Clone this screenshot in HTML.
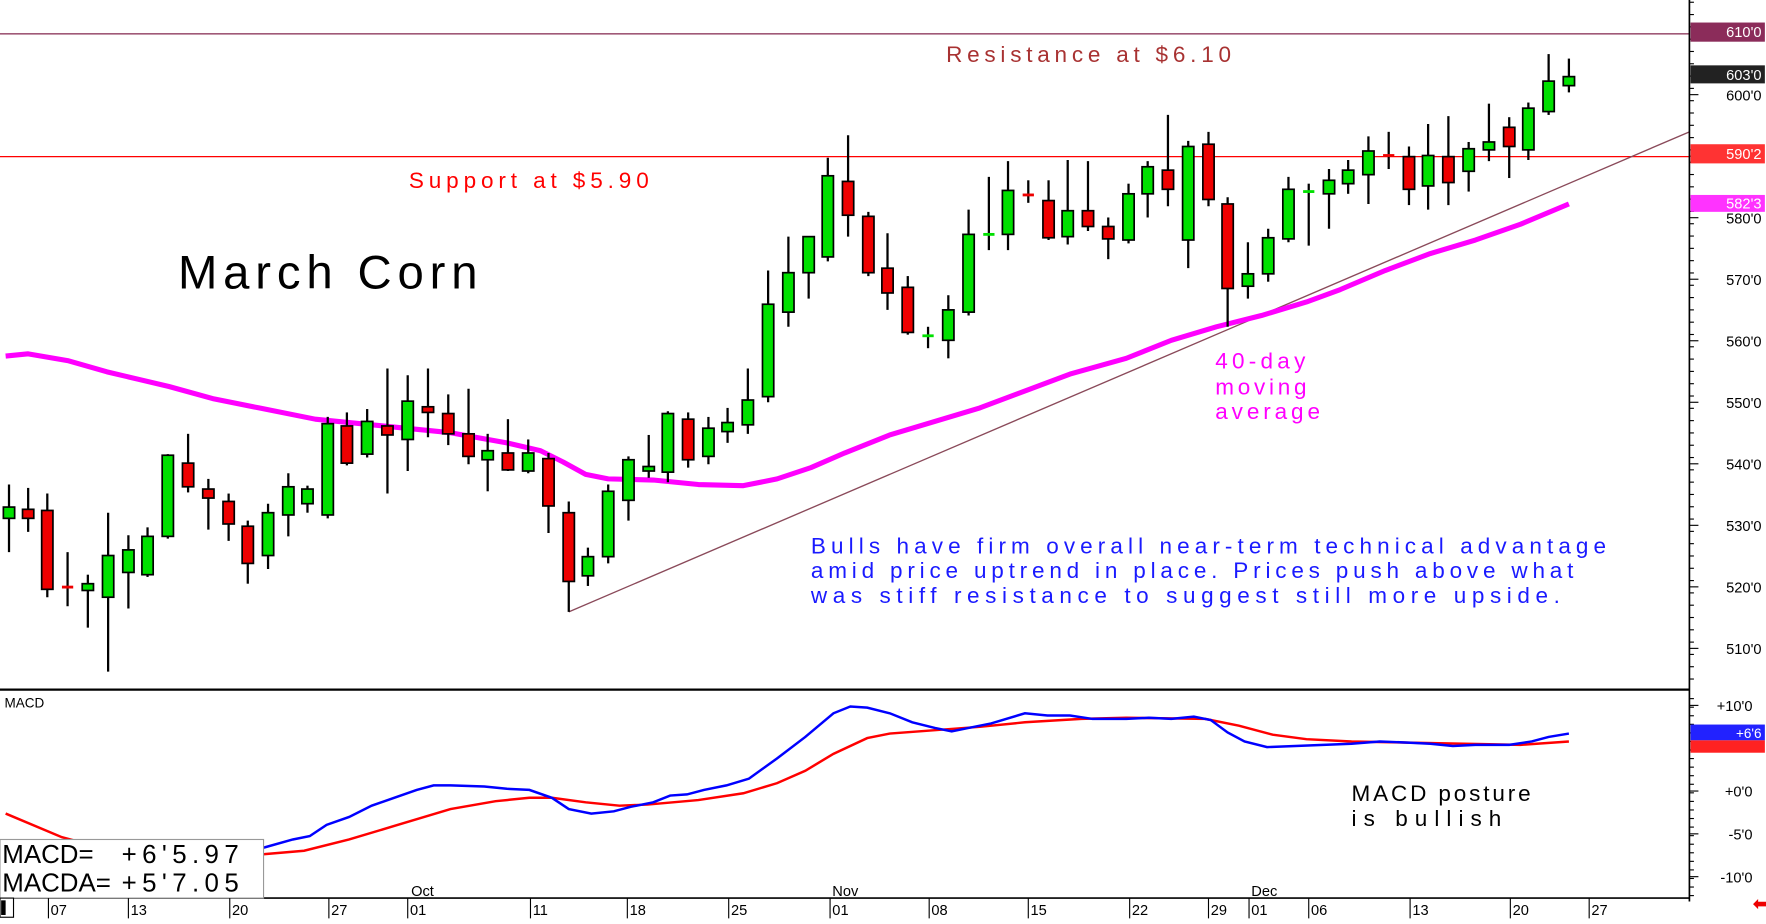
<!DOCTYPE html>
<html><head><meta charset="utf-8">
<style>
html,body{margin:0;padding:0;background:#fff;overflow:hidden}
svg{display:block}
text{font-family:"Liberation Sans",sans-serif}
</style></head>
<body>
<svg id="s" width="1766" height="924" viewBox="0 0 1568 820" preserveAspectRatio="none" xmlns="http://www.w3.org/2000/svg">
<rect width="1568" height="820" fill="#fff"/>
<g id="grid"></g>
<!-- resistance / support -->
<line x1="0" y1="30" x2="1500" y2="30" stroke="#a05a78" stroke-width="1.5"/>
<line x1="0" y1="139" x2="1500" y2="139" stroke="#f00" stroke-width="1.2"/>
<line x1="505" y1="543" x2="1500" y2="117" stroke="#8a4a5a" stroke-width="1.2"/>
<polyline fill="none" stroke="#f0f" stroke-width="4.5" stroke-linejoin="round" points="5,316 25,314 60,320 95,330 150,343 190,354 230,362 280,372 340,378 400,384 450,393 480,400 500,410 520,421 540,425 580,426 620,430 660,431 690,425 720,415 750,402 790,386 830,374 870,362 910,347 950,332 1000,318 1040,302 1080,290 1120,280 1160,268 1190,257 1230,240 1270,225 1310,213 1350,199 1393,181"/>
<g id="candles"></g>
<!-- texts -->
<text x="840" y="55" font-size="20" fill="#a83232" textLength="253" lengthAdjust="spacing">Resistance at $6.10</text>
<text x="363" y="167" font-size="20" fill="#f00" textLength="213" lengthAdjust="spacing">Support at $5.90</text>
<text x="158" y="256" font-size="42" fill="#000" textLength="266" lengthAdjust="spacing">March Corn</text>
<text x="720" y="491" font-size="20" fill="#1a1aff" textLength="706" lengthAdjust="spacing">Bulls have firm overall near-term technical advantage</text>
<text x="720" y="513" font-size="20" fill="#1a1aff" textLength="677" lengthAdjust="spacing">amid price uptrend in place. Prices push above what</text>
<text x="720" y="535" font-size="20" fill="#1a1aff" textLength="665" lengthAdjust="spacing">was stiff resistance to suggest still more upside.</text>
<text x="1079" y="327" font-size="20" fill="#f0f" textLength="80" lengthAdjust="spacing">40-day</text>
<text x="1079" y="350" font-size="20" fill="#f0f" textLength="81" lengthAdjust="spacing">moving</text>
<text x="1079" y="372" font-size="20" fill="#f0f" textLength="93" lengthAdjust="spacing">average</text>
<!-- panel borders -->
<line x1="0" y1="612" x2="1500" y2="612" stroke="#000" stroke-width="2"/>
<line x1="1500" y1="0" x2="1500" y2="800" stroke="#000" stroke-width="1.5"/>
<line x1="0" y1="797" x2="1500" y2="797" stroke="#000" stroke-width="1.5"/>
<text x="4" y="628" font-size="12" fill="#000">MACD</text>
<polyline fill="none" stroke="#f00" stroke-width="2.2" points="5,722 55,743 100,755 160,762 235,758 270,755 310,745 350,733 400,718 440,711 470,708 490,708 520,712 550,715 575,714 620,710 660,704 690,695 715,684 740,669 770,655 790,651 830,648 870,645 910,641 960,638 1000,637 1070,638 1100,644 1130,652 1160,656 1200,658 1250,659 1300,660 1350,661 1393,658"/>
<polyline fill="none" stroke="#00f" stroke-width="2.2" points="200,760 235,752 260,745 275,742 290,732 310,725 330,715 350,708 370,701 385,697 400,697 430,698 450,700 470,701 490,708 505,718 525,722 545,720 560,716 580,712 595,706 610,705 625,701 645,697 665,691 690,673 715,654 740,633 755,627 770,628 790,633 810,641 830,646 845,649 860,646 880,642 910,633 930,635 950,635 970,638 1000,638 1020,637 1040,638 1060,636 1075,639 1090,650 1105,658 1125,663 1150,662 1175,661 1200,660 1225,658 1250,659 1270,660 1290,662 1310,661 1340,661 1360,658 1375,654 1393,651"/>
<text x="1200" y="711" font-size="20" fill="#000" textLength="159" lengthAdjust="spacing">MACD posture</text>
<text x="1200" y="733" font-size="20" fill="#000" textLength="133" lengthAdjust="spacing">is bullish</text>
<rect x="0" y="745" width="234" height="52" fill="#fff" stroke="#999" stroke-width="1"/>
<text x="2" y="766" font-size="23" fill="#000">MACD=</text>
<text x="108" y="766" font-size="23" fill="#000" textLength="104" lengthAdjust="spacing">+6'5.97</text>
<text x="2" y="791" font-size="23" fill="#000">MACDA=</text>
<text x="108" y="791" font-size="23" fill="#000" textLength="104" lengthAdjust="spacing">+5'7.05</text>
<g id="axis"></g>
<!-- right labels -->
<rect x="1501" y="20" width="66" height="17" fill="#8b2c5a"/>
<text x="1564" y="33" font-size="13" fill="#fff" text-anchor="end">610'0</text>
<rect x="1501" y="58" width="66" height="16" fill="#222"/>
<text x="1564" y="71" font-size="13" fill="#fff" text-anchor="end">603'0</text>
<rect x="1501" y="128" width="66" height="17" fill="#f33"/>
<text x="1564" y="141" font-size="13" fill="#fff" text-anchor="end">590'2</text>
<rect x="1501" y="173" width="66" height="15" fill="#f3f"/>
<text x="1564" y="185" font-size="13" fill="#fff" text-anchor="end">582'3</text>
<rect x="1501" y="643" width="66" height="14" fill="#22f"/>
<text x="1564" y="655" font-size="12" fill="#fff" text-anchor="end">+6'6</text>
<rect x="1501" y="657" width="66" height="11" fill="#f22"/>
<text x="1556" y="808" font-size="18" fill="#e00">⬅</text>
</svg>
<script>
const NS="http://www.w3.org/2000/svg";
function el(p,t,a){const e=document.createElementNS(NS,t);for(const k in a)e.setAttribute(k,a[k]);p.appendChild(e);return e;}
const C=[
[8,'g',450,460,430,490],[25,'r',452,460,433,472],[42,'r',453,523,438,530],[60,'r',521,521,490,538],
[78,'g',518,524,510,557],[96,'g',493,530,455,596],[114,'g',488,508,475,540],[131,'g',476,510,468,512],
[149,'g',404,476,403,478],[167,'r',411,432,385,437],[185,'r',434,442,425,470],[203,'r',445,465,438,480],
[220,'r',467,500,462,518],[238,'g',455,493,447,505],[256,'g',432,457,420,476],[273,'g',434,447,431,455],
[291,'g',376,457,370,460],[308,'r',378,411,366,413],[326,'g',374,403,363,406],[344,'r',378,386,327,438],
[362,'g',356,390,333,418],[380,'r',361,366,327,388],[398,'r',367,385,350,395],[416,'r',385,405,345,412],
[433,'g',400,408,385,436],[451,'r',402,417,372,418],[469,'g',402,418,390,420],[487,'r',407,449,402,473],
[505,'r',455,516,445,543],[522,'g',494,511,486,520],[540,'g',436,494,430,500],[558,'g',408,444,405,462],
[576,'g',414,418,386,424],[593,'g',367,419,365,428],[611,'r',372,408,366,415],[629,'g',380,405,370,412],
[646,'g',375,383,362,393],[664,'g',355,377,327,385],[682,'g',270,352,240,357],[700,'g',242,277,210,290],
[718,'g',210,242,210,265],[735,'g',156,228,140,232],[753,'r',161,191,120,210],[771,'r',192,242,188,245],
[788,'r',238,260,207,275],[806,'r',255,295,245,297],[824,'g',298,298,290,309],[842,'g',275,302,262,318],
[860,'g',208,277,186,280],[878,'g',208,208,157,222],[895,'g',169,208,143,222],[913,'r',173,173,160,180],
[931,'r',178,211,160,213],[948,'g',187,210,142,217],[966,'r',187,201,143,205],[984,'r',201,212,193,230],
[1002,'g',172,213,163,216],[1019,'g',148,172,143,193],[1037,'r',151,168,102,183],[1055,'g',130,213,125,238],
[1073,'r',128,177,117,183],[1090,'r',181,256,175,290],[1108,'g',243,254,215,265],[1126,'g',211,243,203,250],
[1144,'g',168,212,157,215],[1162,'g',170,170,163,218],[1180,'g',160,172,150,203],[1197,'g',151,163,142,172],
[1215,'g',134,155,121,181],[1233,'r',138,138,117,150],[1251,'r',139,168,130,182],[1268,'g',138,165,110,186],
[1286,'r',139,162,103,182],[1304,'g',132,152,126,170],[1322,'g',126,133,92,143],[1340,'r',113,130,104,158],
[1357,'g',96,133,91,142],[1375,'g',72,99,48,102],[1393,'g',68,76,52,82]];
const g=document.getElementById('candles');
for(const [x,c,t,b,h,l] of C){
 const col=c==='g'?'#00e000':'#ee0000';
 el(g,'line',{x1:x,y1:h,x2:x,y2:l,stroke:'#000','stroke-width':2});
 if(b-t<2){el(g,'line',{x1:x-5,y1:t,x2:x+5,y2:t,stroke:col,'stroke-width':2.5});}
 else el(g,'rect',{x:x-5,y:t,width:10,height:b-t,fill:col,stroke:'#000','stroke-width':1.5});
}
const ax=document.getElementById('axis');
// price axis labels & ticks
for(let p=510;p<=600;p+=10){const y=84+(600-p)*5.46;
 el(ax,'text',{x:1564,y:y+5,'font-size':13,fill:'#000','text-anchor':'end'}).textContent=p+"'0";
 el(ax,'line',{x1:1500,y1:y,x2:1508,y2:y,stroke:'#000','stroke-width':1});}
for(let y=2;y<612;y+=10.92){el(ax,'line',{x1:1500,y1:y,x2:1504,y2:y,stroke:'#000','stroke-width':1});}
[[626,'+10\'0'],[702,'+0\'0'],[740,'-5\'0'],[778,'-10\'0']].forEach(([y,t])=>{
 el(ax,'text',{x:1556,y:y+5,'font-size':13,fill:'#000','text-anchor':'end'}).textContent=t;
 el(ax,'line',{x1:1500,y1:y,x2:1508,y2:y,stroke:'#000'});});
for(let y=620;y<797;y+=7.6){el(ax,'line',{x1:1500,y1:y,x2:1504,y2:y,stroke:'#000'});}
const D=[[44,'07'],[115,'13'],[205,'20'],[293,'27'],[363,'01'],[472,'11'],[558,'18'],[648,'25'],[738,'01'],[826,'08'],[914,'15'],[1004,'22'],[1074,'29'],[1110,'01'],[1163,'06'],[1253,'13'],[1342,'20'],[1412,'27']];
for(const [x,t] of D){el(ax,'line',{x1:x-1,y1:797,x2:x-1,y2:815,stroke:'#000'});
 el(ax,'text',{x:x+1,y:812,'font-size':13,fill:'#000'}).textContent=t;}
[[365,'Oct'],[739,'Nov'],[1111,'Dec']].forEach(([x,t])=>{el(ax,'text',{x:x,y:795,'font-size':13,fill:'#000'}).textContent=t;});
el(ax,'rect',{x:0,y:797,width:12,height:17,fill:'#fff',stroke:'#000'});
el(ax,'rect',{x:1,y:799,width:4,height:13,fill:'#000'});
</script>
</body></html>
